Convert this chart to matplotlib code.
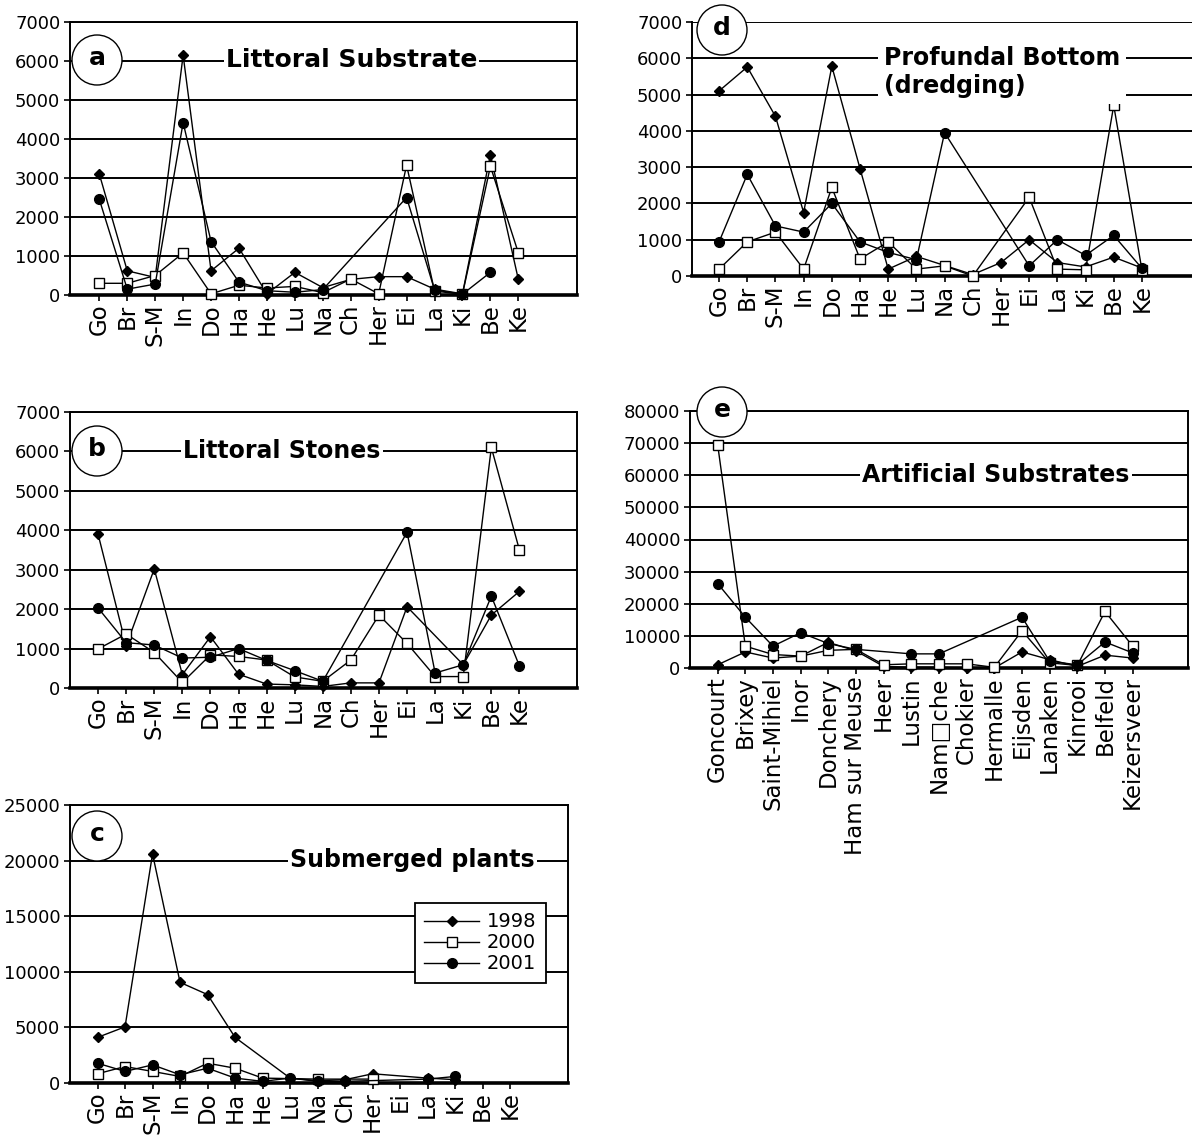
import numpy as np
import matplotlib
matplotlib.use('Agg')
import matplotlib.pyplot as plt
from matplotlib.patches import Ellipse
from matplotlib.lines import Line2D

plt.rcParams['font.family'] = ['DejaVu Sans']

nan = np.nan

# Station names (short codes for a-d, full names for e)
abbrev = ['Go', 'Br', 'S-M', 'In', 'Do', 'Ha', 'He', 'Lu', 'Na', 'Ch',
          'Her', 'Ei', 'La', 'Ki', 'Be', 'Ke']
stations = ['Goncourt', 'Brixey', 'Saint-Mihiel', 'Inor', 'Donchery',
            'Ham sur Meuse', 'Heer', 'Lustin', 'Nam\u25a1che', 'Chokier',
            'Hermalle', 'Eijsden', 'Lanaken', 'Kinrooi', 'Belfeld', 'Keizersveer']
years = ['1998', '2000', '2001']

# a) littoral substrate
a_1998 = [3100, 620, 450, 6150, 620, 1200, 30, 580, 190, 400, 470, 470, 150, 30, 3600, 400]
a_2000 = [300, 300, 500, 1080, 30, 250, 180, 220, 60, 410, 30, 3330, 100, 20, 3300, 1080]
a_2001 = [2450, 150, 280, 4420, 1370, 330, 110, 70, 140, nan, nan, 2500, 130, 20, 580, nan]

# b) littoral stones
b_1998 = [3900, 1070, 3020, 340, 1300, 350, 100, 80, 40, 130, 130, 2060, nan, 590, 1850, 2450]
b_2000 = [990, 1370, 900, 140, 840, 800, 710, 280, 170, 710, 1850, 1130, 290, 290, 6100, 3500]
b_2001 = [2030, 1150, 1090, 760, 780, 1000, 700, 440, 170, nan, nan, 3950, 380, 590, 2330, 560]

# c) submerged plants
c_1998 = [4100, 5050, 20600, 9050, 7950, 4100, nan, 440, 200, 300, 830, nan, 440, 300, nan, nan]
c_2000 = [830, 1480, 1040, 590, 1780, 1330, 440, nan, 350, nan, 350, nan, nan, nan, nan, nan]
c_2001 = [1780, 1040, 1630, 740, 1330, 440, 150, 440, 150, 150, nan, nan, 350, 590, nan, nan]

# d) profundal bottom (dredging)
d_1998 = [5100, 5760, 4400, 1750, 5780, 2960, 190, 540, nan, 40, 370, 1000, 370, 250, 520, 220]
d_2000 = [190, 940, 1210, 190, 2440, 470, 940, 190, 280, 0, nan, 2170, 190, 170, 4700, 170]
d_2001 = [940, 2800, 1380, 1210, 2000, 940, 650, 450, 3950, nan, nan, 280, 1000, 570, 1120, 210]

# e) artificial substrates
e_1998 = [1000, 5000, 3100, 3700, 8000, 5300, 500, 200, 200, 0, 0, 5000, 2600, 500, 4000, 3100]
e_2000 = [69500, 6800, 4200, 3700, 5500, 5800, 1000, 1300, 1300, 1300, 200, 11600, 1600, 800, 17600, 6800]
e_2001 = [26300, 15800, 6800, 11000, 7600, 5800, nan, 4400, 4400, nan, nan, 15800, 2100, 1000, 8100, 4700]

W, H = 1192, 1138
fig = plt.figure(figsize=(W / 100, H / 100), dpi=100)


def rect(left, top, right, bottom):
    return [left / W, 1 - bottom / H, (right - left) / W, (bottom - top) / H]


def fx(x):
    return x / W


def fy(y):
    return 1 - y / H


styles = [dict(marker='D', ms=5.5, mfc='black'),
          dict(marker='s', ms=7, mfc='white'),
          dict(marker='o', ms=7, mfc='black')]


def panel(box, labels, series, ymax, ystep, xlim, right_spine=True, top_spine=True):
    ax = fig.add_axes(rect(*box))
    x = np.arange(len(labels))
    for vals, st in zip(series, styles):
        v = np.array(vals, dtype=float)
        ok = ~np.isnan(v)
        # missing stations are bridged, the line runs straight across them
        ax.plot(x[ok], v[ok], color='black', lw=1, mec='black', mew=1,
                zorder=3, clip_on=False, **st)
    ax.set_xlim(*xlim)
    ax.set_ylim(0, ymax)
    ax.set_yticks(np.arange(0, ymax + 1, ystep))
    ax.set_xticks(x)
    ax.set_xticklabels(labels, rotation=90, fontsize=16.5)
    ax.tick_params(axis='y', labelsize=13, length=4, width=1.2, pad=3)
    ax.tick_params(axis='x', length=4, width=1.2, pad=2)
    ax.yaxis.grid(True, color='black', lw=1.4)
    ax.set_axisbelow(True)
    for s in ax.spines.values():
        s.set_linewidth(1.4)
    ax.spines['bottom'].set_linewidth(2.6)
    ax.spines['right'].set_visible(right_spine)
    ax.spines['top'].set_visible(top_spine)
    return ax


def tag(cx, cy, letter):
    fig.add_artist(Ellipse((fx(cx), fy(cy)), 50 / W, 50 / H, transform=fig.transFigure,
                           facecolor='white', edgecolor='black', lw=1, zorder=4))
    fig.text(fx(cx), fy(cy) + 0.002, letter, ha='center', va='center',
             fontsize=18, fontweight='bold', zorder=5)


def title(x, y, s, size=17):
    fig.text(fx(x), fy(y), s, ha='left', va='center', fontsize=size, fontweight='bold',
             bbox=dict(facecolor='white', edgecolor='none', pad=1.5), zorder=5)


panel((70, 22, 577, 295), abbrev, [a_1998, a_2000, a_2001], 7000, 1000, (-1.05, 17.1))
tag(97, 60, 'a')
title(226, 60, 'Littoral Substrate', size=18)

panel((70, 412, 577, 688), abbrev, [b_1998, b_2000, b_2001], 7000, 1000, (-1.0, 17.05))
tag(97, 451, 'b')
title(183, 451, 'Littoral Stones')

axc = panel((70, 805, 568, 1083), abbrev, [c_1998, c_2000, c_2001], 25000, 5000, (-1.0, 17.1))
tag(97, 836, 'c')
title(290, 860, 'Submerged plants')
handles = [Line2D([], [], color='black', lw=1, mec='black', **st) for st in styles]
leg = axc.legend(handles, years, loc='upper left',
                 bbox_to_anchor=(fx(405), fy(893)), bbox_transform=fig.transFigure,
                 fontsize=14, frameon=True, fancybox=False, framealpha=1,
                 edgecolor='black', handlelength=2.8, borderpad=0.5,
                 labelspacing=0.1, handletextpad=0.4)
leg.get_frame().set_linewidth(1.3)
leg.set_zorder(6)

panel((692, 22, 1200, 276), abbrev, [d_1998, d_2000, d_2001], 7000, 1000, (-0.96, 17.06),
      right_spine=False, top_spine=False)
tag(722, 30, 'd')
fig.text(fx(884), fy(72), 'Profundal Bottom\n(dredging)', ha='left', va='center',
         fontsize=17, fontweight='bold', linespacing=1.25,
         bbox=dict(facecolor='white', edgecolor='none', pad=4), zorder=5)

panel((690, 411, 1188, 668), stations, [e_1998, e_2000, e_2001], 80000, 10000, (-1.0, 17.0))
tag(722, 412, 'e')
title(862, 475, 'Artificial Substrates')

fig.savefig('out.png', dpi=100, facecolor='white')
